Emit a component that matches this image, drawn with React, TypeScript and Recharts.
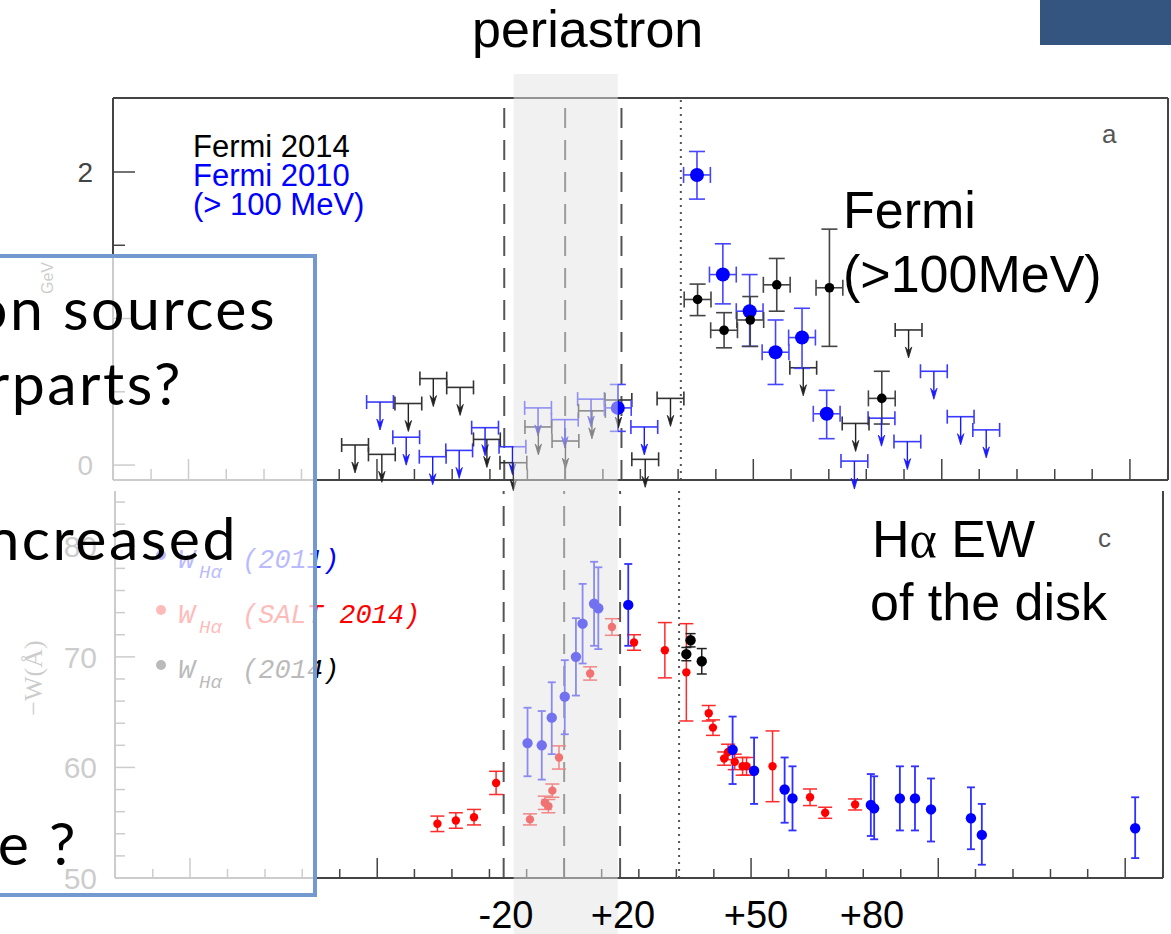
import React from "react";
import {
  ScatterChart,
  Scatter,
  XAxis,
  YAxis,
  ErrorBar,
  ReferenceLine,
  ReferenceArea,
} from "recharts";

const PAGE_W = 1171;
const PAGE_H = 934;

// x axis: days from periastron (ticks every 0.01 / 0.05 in orbital phase)
const DAY_DOMAIN: [number, number] = [-148.5, 198];
const minorDayTicks = [
  -148.4, -136.0, -123.7, -111.3, -98.9, -86.6, -74.2, -61.8, -49.5, -37.1, -24.7, -12.4, 0,
  12.4, 24.7, 37.1, 49.5, 61.8, 74.2, 86.6, 98.9, 111.3, 123.7, 136.0, 148.4, 160.8, 173.1,
  185.5, 197.9,
];
const majorDayTicks = [-123.7, -61.8, 0, 61.8, 123.7, 185.5];

const dashedDays = [-20, 0, 18.5];
const dottedDay = 38;
const bandDays: [number, number] = [-16.9, 17.3];

// slide labels under the plot
const slideDayLabels = ["-20", "+20", "+50", "+80"];

// ---- panel a: Fermi flux ----
const FLUX_DOMAIN: [number, number] = [-0.102, 2.505];
const fluxTicks = [0, 0.5, 1, 1.5, 2];
const fluxLabels = [0, 2];
const BIN_HALF = 4.4;

const f2010Day = [17.3, 43.3, 51.8, 60.6, 69.1, 77.8, 85.9];
const f2010Flux = [0.39, 1.98, 1.3, 1.05, 0.77, 0.87, 0.35];
const f2010Lo = [0.23, 1.815, 1.1, 0.81, 0.55, 0.66, 0.18];
const f2010Hi = [0.55, 2.14, 1.51, 1.3, 0.99, 1.07, 0.51];

const f2014Day = [43.5, 52.2, 60.8, 69.5, 86.8, 104.0];
const f2014Flux = [1.13, 0.92, 0.99, 1.23, 1.21, 0.455];
const f2014Lo = [1.02, 0.8, 0.81, 1.05, 0.81, 0.28];
const f2014Hi = [1.235, 1.04, 1.15, 1.41, 1.61, 0.64];

const f2010UlDay = [-60.8, -52.2, -43.5, -34.8, -26.3, -17.3, -8.9, -0.1, 8.5, 26.0, 95.0, 103.9, 112.4, 121.1, 129.9, 138.3];
const f2010UlFlux = [0.43, 0.19, 0.057, 0.1, 0.255, 0.125, 0.39, 0.31, 0.45, 0.26, 0.027, 0.32, 0.16, 0.64, 0.33, 0.24];

const f2014UlDay = [-69.0, -60.2, -51.5, -43.3, -34.5, -25.7, -17.0, -8.8, 0.1, 8.8, 17.5, 26.3, 34.6, 78.2, 95.4, 112.8];
const f2014UlFlux = [0.137, 0.073, 0.42, 0.59, 0.53, 0.175, 0.016, 0.26, 0.164, 0.37, 0.444, 0.039, 0.455, 0.664, 0.284, 0.922];

// ---- panel c: H-alpha equivalent width ----
const EW_DOMAIN: [number, number] = [50, 85];
const ewTicks = [50, 52, 54, 56, 58, 60, 62, 64, 66, 68, 70, 72, 74, 76, 78, 80, 82, 84];
const ewLabels = [50, 60, 70, 80];

const ew2011Day = [-12.1, -7.4, -4.1, 0.2, 3.9, 6.1, 9.9, 11.3, 21.2, 55.7, 62.8, 72.9, 75.5, 101.4, 102.5, 111.0, 116.0, 121.3, 134.5, 138.1, 188.8];
const ew2011Val = [62.2, 62.0, 64.5, 66.4, 70.0, 73.0, 74.8, 74.4, 74.7, 61.6, 59.7, 58.0, 57.2, 56.6, 56.3, 57.2, 57.2, 56.2, 55.4, 53.9, 54.5];
const ew2011Lo = [59.2, 58.9, 61.2, 63.0, 66.5, 69.4, 71.0, 70.7, 71.0, 58.5, 56.7, 55.0, 54.3, 53.8, 53.5, 54.3, 54.3, 53.3, 52.6, 51.2, 51.8];
const ew2011Hi = [65.4, 65.1, 67.7, 69.7, 73.5, 76.6, 78.6, 78.1, 78.4, 64.6, 62.7, 60.9, 60.1, 59.4, 59.2, 60.1, 60.1, 59.0, 58.2, 56.7, 57.3];

const ewSaltDay = [-41.9, -35.8, -29.8, -22.5, -11.3, -6.4, -5.2, -3.9, -1.7, 8.6, 15.8, 23.1, 33.3, 40.4, 47.8, 49.2, 52.9, 54.2, 56.4, 59.0, 60.3, 68.9, 81.3, 86.3, 96.2];
const ewSaltVal = [54.9, 55.2, 55.5, 58.6, 55.3, 56.8, 56.5, 57.9, 60.9, 68.5, 72.7, 71.3, 70.6, 68.6, 64.9, 63.6, 60.8, 61.4, 60.5, 60.1, 60.1, 60.1, 57.3, 55.9, 56.65];
const ewSaltLo = [54.2, 54.5, 54.8, 57.55, 54.8, 56.2, 55.9, 57.3, 59.85, 67.9, 71.95, 70.6, 68.1, 64.2, 64.2, 62.9, 60.2, 60.7, 59.8, 59.3, 59.3, 56.9, 56.55, 55.4, 56.15];
const ewSaltHi = [55.6, 55.9, 56.2, 59.65, 55.8, 57.4, 57.1, 58.5, 61.95, 69.1, 73.45, 72.0, 73.1, 73.0, 65.6, 64.3, 61.4, 62.1, 61.2, 60.9, 60.9, 63.3, 58.05, 56.4, 57.15];

const ew2014Day = [40.4, 41.8, 45.5];
const ew2014Val = [70.25, 71.5, 69.6];
const ew2014Lo = [69.65, 70.9, 68.45];
const ew2014Hi = [70.85, 72.1, 70.75];

const axisColor = "#444";
const sans = "'Liberation Sans', Arial, sans-serif";

function withErrors(days: number[], vals: number[], lo: number[], hi: number[], xHalf = 0) {
  return days.map((d, i) => ({
    x: d,
    y: vals[i],
    ey: [vals[i] - lo[i], hi[i] - vals[i]],
    ex: xHalf,
  }));
}

function upperLimits(days: number[], vals: number[]) {
  return days.map((d, i) => ({ x: d, y: vals[i], ex: BIN_HALF }));
}

const dot = (r: number, fill: string) => (p: any) => (
  <circle cx={p.cx} cy={p.cy} r={r} fill={fill} />
);

const arrowDown = (color: string) => (p: any) => {
  const { cx, cy } = p;
  const len = 28;
  return (
    <g>
      <line x1={cx} y1={cy} x2={cx} y2={cy + len - 4} stroke={color} strokeWidth={1.4} />
      <path
        d={`M${cx - 3.2},${cy + len - 11} L${cx},${cy + len} L${cx + 3.2},${cy + len - 11} L${cx},${cy + len - 7} Z`}
        fill={color}
        stroke={color}
        strokeWidth={0.8}
      />
    </g>
  );
};

type Side = "left" | "right" | "top" | "bottom";

// inward-pointing tick marks with optional labels outside the frame
const inwardTick =
  (side: Side, len: (v: number) => number, labels: number[] = [], gap = 20, fontSize = 28) =>
  (p: any) => {
    const { x, y } = p;
    const v = p.payload.value;
    const L = len(v);
    let x2 = x;
    let y2 = y;
    if (side === "left") x2 = x + L;
    else if (side === "right") x2 = x - L;
    else if (side === "top") y2 = y + L;
    else y2 = y - L;
    const showLabel = labels.some((l) => Math.abs(l - v) < 1e-6);
    return (
      <g>
        <line x1={x} y1={y} x2={x2} y2={y2} stroke={axisColor} strokeWidth={1.5} />
        {showLabel && (
          <text x={x - gap} y={y} dy="0.36em" textAnchor="end" fill={axisColor} fontSize={fontSize} fontFamily={sans}>
            {String(v)}
          </text>
        )}
      </g>
    );
  };

const isMajorDay = (v: number) => majorDayTicks.some((m) => Math.abs(m - v) < 0.05);
const axisLine = { stroke: axisColor, strokeWidth: 2 };

function FermiPanel() {
  return (
    <ScatterChart width={PAGE_W} height={PAGE_H} margin={{ top: 97, right: 2, bottom: 453, left: 112 }}>
      <XAxis xAxisId="b" dataKey="x" type="number" domain={DAY_DOMAIN} ticks={minorDayTicks} interval={0}
        height={1} tickSize={0} tickMargin={0} tickLine={false} axisLine={axisLine}
        tick={inwardTick("bottom", (v) => (isMajorDay(v) ? 21 : 11))} />
      <XAxis xAxisId="t" orientation="top" type="number" domain={DAY_DOMAIN} ticks={minorDayTicks} interval={0}
        height={1} tickSize={0} tickMargin={0} tickLine={false} axisLine={axisLine}
        tick={inwardTick("top", (v) => (isMajorDay(v) ? 22 : 10))} />
      <YAxis yAxisId="l" dataKey="y" type="number" domain={FLUX_DOMAIN} ticks={fluxTicks} interval={0}
        width={1} tickSize={0} tickMargin={0} tickLine={false} axisLine={axisLine}
        tick={inwardTick("left", (v) => (v % 1 === 0 ? 22 : 12), fluxLabels, 20, 28)} />
      <YAxis yAxisId="r" orientation="right" type="number" domain={FLUX_DOMAIN} ticks={fluxTicks} interval={0}
        width={1} tickSize={0} tickMargin={0} tickLine={false} axisLine={axisLine}
        tick={inwardTick("right", () => 23)} />

      {dashedDays.map((d) => (
        <ReferenceLine key={d} xAxisId="b" yAxisId="l" x={d} stroke="#555" strokeWidth={2} strokeDasharray="20 12" />
      ))}
      <ReferenceLine xAxisId="b" yAxisId="l" x={dottedDay} stroke="#555" strokeWidth={2} strokeDasharray="2 5" />

      <Scatter data={upperLimits(f2010UlDay, f2010UlFlux)} xAxisId="b" yAxisId="l" isAnimationActive={false}
        shape={arrowDown("#1a1aff")}>
        <ErrorBar dataKey="ex" direction="x" width={7} stroke="#3a3aff" strokeWidth={1.6} />
      </Scatter>
      <Scatter data={upperLimits(f2014UlDay, f2014UlFlux)} xAxisId="b" yAxisId="l" isAnimationActive={false}
        shape={arrowDown("#222")}>
        <ErrorBar dataKey="ex" direction="x" width={7} stroke="#333" strokeWidth={1.6} />
      </Scatter>
      <Scatter data={withErrors(f2010Day, f2010Flux, f2010Lo, f2010Hi, BIN_HALF)} xAxisId="b" yAxisId="l"
        isAnimationActive={false} shape={dot(7, "#0000ff")}>
        <ErrorBar dataKey="ex" direction="x" width={8} stroke="#4545ff" strokeWidth={1.6} />
        <ErrorBar dataKey="ey" direction="y" width={8} stroke="#4545ff" strokeWidth={1.6} />
      </Scatter>
      <Scatter data={withErrors(f2014Day, f2014Flux, f2014Lo, f2014Hi, BIN_HALF)} xAxisId="b" yAxisId="l"
        isAnimationActive={false} shape={dot(4.8, "#000")}>
        <ErrorBar dataKey="ex" direction="x" width={8} stroke="#444" strokeWidth={1.6} />
        <ErrorBar dataKey="ey" direction="y" width={8} stroke="#444" strokeWidth={1.6} />
      </Scatter>
    </ScatterChart>
  );
}

function HalphaPanel() {
  return (
    <ScatterChart width={PAGE_W} height={PAGE_H} margin={{ top: 490, right: 7, bottom: 55, left: 114 }}>
      <XAxis xAxisId="b" dataKey="x" type="number" domain={DAY_DOMAIN} ticks={minorDayTicks} interval={0}
        height={1} tickSize={0} tickMargin={0} tickLine={false} axisLine={axisLine}
        tick={inwardTick("bottom", (v) => (isMajorDay(v) ? 20 : 9))} />
      <XAxis xAxisId="t" orientation="top" type="number" domain={DAY_DOMAIN} ticks={majorDayTicks} interval={0}
        height={1} tickSize={0} tickMargin={0} tickLine={false} axisLine={false}
        tick={inwardTick("top", () => 8)} />
      <YAxis yAxisId="l" dataKey="y" type="number" domain={EW_DOMAIN} ticks={ewTicks} interval={0}
        width={1} tickSize={0} tickMargin={0} tickLine={false} axisLine={axisLine}
        tick={inwardTick("left", (v) => (v % 10 === 0 ? 20 : 10), ewLabels, 18, 30)} />
      <YAxis yAxisId="r" orientation="right" type="number" domain={EW_DOMAIN} ticks={ewTicks} interval={0}
        width={1} tickSize={0} tickMargin={0} tickLine={false} axisLine={axisLine}
        tick={inwardTick("right", (v) => (v % 10 === 0 ? 19 : 10))} />

      {dashedDays.map((d) => (
        <ReferenceLine key={d} xAxisId="b" yAxisId="l" x={d} stroke="#555" strokeWidth={2} strokeDasharray="20 12" />
      ))}
      <ReferenceLine xAxisId="b" yAxisId="l" x={dottedDay} stroke="#555" strokeWidth={2} strokeDasharray="2 5" />

      <Scatter data={withErrors(ewSaltDay, ewSaltVal, ewSaltLo, ewSaltHi)} xAxisId="b" yAxisId="l"
        isAnimationActive={false} shape={dot(4.2, "#ff0000")}>
        <ErrorBar dataKey="ey" direction="y" width={7} stroke="#ff2a2a" strokeWidth={1.5} />
      </Scatter>
      <Scatter data={withErrors(ew2011Day, ew2011Val, ew2011Lo, ew2011Hi)} xAxisId="b" yAxisId="l"
        isAnimationActive={false} shape={dot(5.2, "#0000ff")}>
        <ErrorBar dataKey="ey" direction="y" width={4} stroke="#3030ff" strokeWidth={1.8} />
      </Scatter>
      <Scatter data={withErrors(ew2014Day, ew2014Val, ew2014Lo, ew2014Hi)} xAxisId="b" yAxisId="l"
        isAnimationActive={false} shape={dot(5.2, "#000")}>
        <ErrorBar dataKey="ey" direction="y" width={5} stroke="#222" strokeWidth={1.5} />
      </Scatter>
    </ScatterChart>
  );
}

// translucent grey strip marking the periastron passage, drawn over both panels
function PeriastronBand() {
  return (
    <ScatterChart width={PAGE_W} height={PAGE_H} margin={{ top: 74, right: 3, bottom: 0, left: 113 }}>
      <XAxis xAxisId="b" dataKey="x" type="number" domain={DAY_DOMAIN} hide />
      <YAxis yAxisId="l" dataKey="y" type="number" domain={[0, 1]} hide />
      <Scatter data={[{ x: 0, y: 0.5 }]} xAxisId="b" yAxisId="l" isAnimationActive={false} shape={() => <g />} />
      <ReferenceArea xAxisId="b" yAxisId="l" x1={bandDays[0]} x2={bandDays[1]} y1={0} y2={1}
        fill="#e4e4e4" fillOpacity={0.5} stroke="none" ifOverflow="visible" />
    </ScatterChart>
  );
}

const legendMono = "'Liberation Mono', 'Courier New', monospace";

function PlotLabels() {
  const legendRows = [
    { y: 568, color: "#0000ff", text: "(2011)" },
    { y: 623, color: "#ff0000", text: "(SALT 2014)" },
    { y: 678, color: "#000000", text: "(2014)" },
  ];
  return (
    <svg width={PAGE_W} height={PAGE_H} style={{ position: "absolute", left: 0, top: 0 }}>
      <g fontFamily={sans} fontSize={31}>
        <text x={193} y={157} fill="#000">Fermi 2014</text>
        <text x={193} y={186} fill="#0000ff">Fermi 2010</text>
        <text x={193} y={215} fill="#0000ff">(&gt; 100 MeV)</text>
      </g>
      <text x={1102} y={143} fontFamily={sans} fontSize={26} fill="#555">a</text>
      <text x={1098} y={547} fontFamily={sans} fontSize={26} fill="#555">c</text>
      <text x={0} y={0} transform="translate(53,278) rotate(-90)" textAnchor="middle" fontFamily={sans}
        fontSize={16} fill="#444">GeV</text>
      <text x={0} y={0} transform="translate(42,678) rotate(-90)" textAnchor="middle"
        fontFamily="'Liberation Serif', serif" fontSize={26} fill="#444">−W(Å)</text>
      {legendRows.map((r) => (
        <g key={r.text + r.y} fill={r.color} fontFamily={legendMono} fontStyle="italic">
          <circle cx={161} cy={r.y - 13} r={5} />
          <text x={178} y={r.y} fontSize={28}>W</text>
          <text x={199} y={r.y + 10} fontSize={19}>Hα</text>
          <text x={242} y={r.y} fontSize={27}>{r.text}</text>
        </g>
      ))}
    </svg>
  );
}

const boxFont = "Lato, 'Noto Sans', sans-serif";

function SlideText() {
  return (
    <svg width={PAGE_W} height={PAGE_H} style={{ position: "absolute", left: 0, top: 0 }}>
      <rect x={1040} y={0} width={131} height={45} fill="#34557f" />
      <text x={472} y={47} fontFamily={sans} fontSize={52} fill="#000">periastron</text>
      <g fontFamily={sans} fontSize={52} fill="#000">
        <text x={843} y={228}>Fermi</text>
        <text x={843} y={292}>(&gt;100MeV)</text>
        <text x={872} y={557}>
          H<tspan fontFamily="'Liberation Serif', serif">α</tspan> EW
        </text>
        <text x={870} y={620}>of the disk</text>
      </g>
      <g fontFamily={sans} fontSize={38} fill="#000" textAnchor="middle">
        {[506, 623, 756, 872].map((x, i) => (
          <text key={slideDayLabels[i]} x={x} y={928}>{slideDayLabels[i]}</text>
        ))}
      </g>
      <g fontFamily={boxFont} fontSize={59} fill="#000" textAnchor="end" letterSpacing={2.5}>
        <text x={277} y={330}>on sources</text>
        <text x={183} y={405}>rparts?</text>
        <text x={238} y={560}>ncreased</text>
        <text x={78} y={865}>e ?</text>
      </g>
    </svg>
  );
}

export default function App() {
  const layer: React.CSSProperties = { position: "absolute", left: 0, top: 0 };
  return (
    <div style={{ position: "absolute", left: 0, top: 0, width: PAGE_W, height: PAGE_H, overflow: "hidden", background: "#fff" }}>
      <div style={layer}><FermiPanel /></div>
      <div style={layer}><HalphaPanel /></div>
      <PlotLabels />
      <div style={layer}><PeriastronBand /></div>
      <div
        style={{
          position: "absolute",
          left: -10,
          top: 254,
          width: 327,
          height: 643,
          boxSizing: "border-box",
          border: "4px solid #7399d0",
          background: "rgba(255,255,255,0.73)",
        }}
      />
      <SlideText />
    </div>
  );
}
